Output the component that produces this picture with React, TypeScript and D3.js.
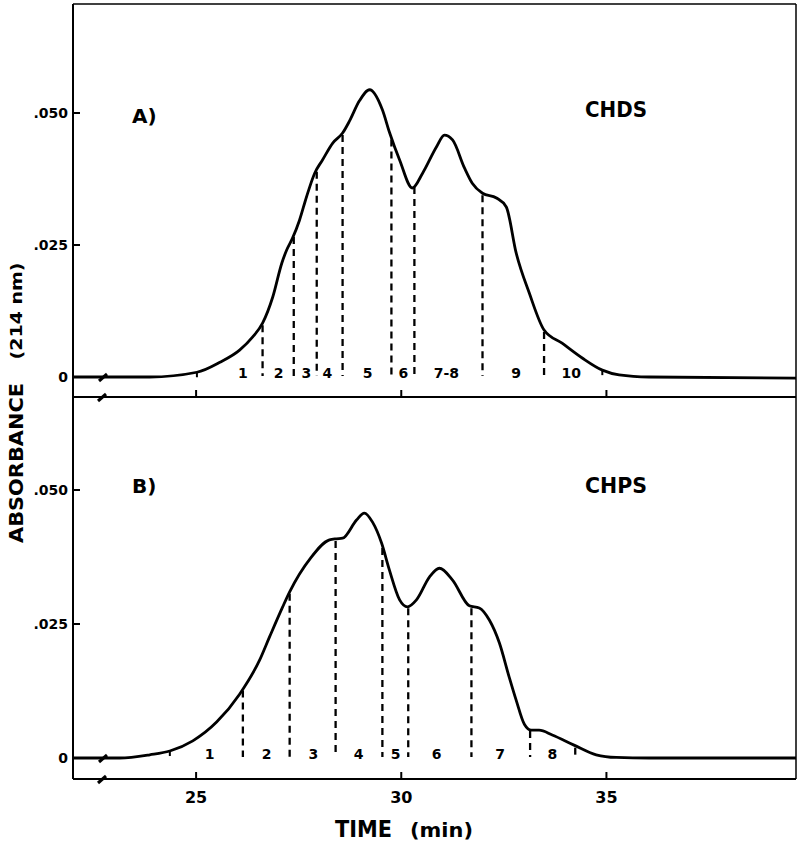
import React from 'react';
import * as d3 from 'd3';

// Panel A (CHDS) chromatogram
const timeA = [22.0, 23.87, 25.02, 25.58, 26.06, 26.38, 26.62, 26.87, 27.09, 27.21, 27.35, 27.52, 27.69, 27.89, 28.08, 28.33, 28.57, 28.74, 28.98, 29.23, 29.54, 29.71, 29.96, 30.27, 30.52, 30.86, 31.05, 31.25, 31.54, 31.73, 31.98, 32.32, 32.56, 32.8, 33.12, 33.48, 33.92, 34.41, 34.9, 35.31, 36.04, 39.62];
const absA = [0, 0, 0.0009, 0.0028, 0.0051, 0.0076, 0.0102, 0.0152, 0.0216, 0.0241, 0.0263, 0.0297, 0.0341, 0.0386, 0.0411, 0.0443, 0.0462, 0.0485, 0.0523, 0.0544, 0.0506, 0.0464, 0.0411, 0.0358, 0.0386, 0.0436, 0.0458, 0.0449, 0.0396, 0.0367, 0.0348, 0.0339, 0.0322, 0.0235, 0.0159, 0.0089, 0.0064, 0.0036, 0.0013, 0.0004, 0, -0.0002];
const boundsA = [26.62, 27.38, 27.94, 28.57, 29.76, 30.32, 31.98, 33.48];
const fracPosA = [26.14, 27.01, 27.69, 28.2, 29.18, 30.05, 31.1, 32.8, 34.14];
const fracLabA = ['1', '2', '3', '4', '5', '6', '7-8', '9', '10'];
const marksA = [25.02, 34.9];

// Panel B (CHPS) chromatogram
const timeB = [22.0, 23.14, 23.87, 24.36, 24.92, 25.5, 26.06, 26.55, 26.79, 27.11, 27.28, 27.79, 28.25, 28.42, 28.57, 28.91, 29.1, 29.3, 29.52, 29.71, 29.96, 30.15, 30.37, 30.69, 30.93, 31.25, 31.66, 31.9, 32.15, 32.39, 32.63, 32.8, 33.0, 33.17, 33.36, 33.68, 34.21, 34.75, 35.24, 36.04, 39.62];
const absB = [0, 0, 0.0006, 0.0013, 0.0032, 0.0067, 0.0119, 0.0183, 0.0226, 0.0282, 0.031, 0.0373, 0.0407, 0.0409, 0.041, 0.0444, 0.0457, 0.044, 0.0401, 0.0351, 0.0295, 0.0282, 0.0295, 0.0338, 0.0354, 0.0332, 0.0284, 0.028, 0.0257, 0.0215, 0.0151, 0.0108, 0.0063, 0.0052, 0.0052, 0.0043, 0.0024, 0.0006, 0.0001, 0, 0];
const boundsB = [26.14, 27.28, 28.4, 29.54, 30.17, 31.71, 33.14, 34.24];
const fracPosB = [25.33, 26.72, 27.86, 28.96, 29.86, 30.86, 32.41, 33.68];
const fracLabB = ['1', '2', '3', '4', '5', '6', '7', '8'];
const marksB = [24.36];

const xTicks = [25, 30, 35];
const xTickLabels = ['25', '30', '35'];
const yTicks = [0, 0.025, 0.05];
const yTickLabels = ['0', '.025', '.050'];

const FONT = '"DejaVu Sans", "Liberation Sans", sans-serif';

function valueAt(time: number[], abs: number[], t: number) {
  const i = d3.bisectLeft(time, t);
  if (i <= 0) return abs[0];
  if (i >= time.length) return abs[abs.length - 1];
  const t0 = time[i - 1], t1 = time[i];
  const f = (t - t0) / (t1 - t0);
  return abs[i - 1] + f * (abs[i] - abs[i - 1]);
}

export default function App() {
  const W = 797, H = 842;
  const x = d3.scaleLinear().domain([22, 39.62]).range([73, 796]);
  const panels = [
    { key: 'A', time: timeA, abs: absA, y: d3.scaleLinear().domain([0, 0.05]).range([377, 113]), axisY: 397, top: 4, label: 'A)', labelY: 123, name: 'CHDS', nameY: 117, bounds: boundsA, fracPos: fracPosA, fracLab: fracLabA, marks: marksA },
    { key: 'B', time: timeB, abs: absB, y: d3.scaleLinear().domain([0, 0.05]).range([758, 490]), axisY: 779, top: 397, label: 'B)', labelY: 493, name: 'CHPS', nameY: 493, bounds: boundsB, fracPos: fracPosB, fracLab: fracLabB, marks: marksB },
  ];

  return (
    <svg width={W} height={H} style={{ position: 'absolute', left: 0, top: 0, background: '#fff' }} fontFamily={FONT}>
      <rect x={0} y={0} width={W} height={H} fill="#fff" />
      {/* frame */}
      <line x1={73} x2={796} y1={4} y2={4} stroke="#000" strokeWidth={1.5} />
      <line x1={73} x2={73} y1={4} y2={779} stroke="#000" strokeWidth={2} />
      <line x1={796} x2={796} y1={4} y2={779} stroke="#000" strokeWidth={1.5} />
      {panels.map((p) => {
        const line = d3.line<number>()
          .x((_, i) => x(p.time[i]))
          .y((d) => p.y(d))
          .curve(d3.curveMonotoneX);
        const y0 = p.y(0);
        return (
          <g key={p.key}>
            {/* x axis line */}
            <line x1={73} x2={796} y1={p.axisY} y2={p.axisY} stroke="#000" strokeWidth={2.2} />
            {xTicks.map((t) => (
              <line key={t} x1={x(t)} x2={x(t)} y1={p.axisY} y2={p.axisY - 7} stroke="#000" strokeWidth={2} />
            ))}
            {/* y ticks */}
            {yTicks.map((v, i) => (
              <g key={v}>
                {v !== 0 && <line x1={73} x2={80} y1={p.y(v)} y2={p.y(v)} stroke="#000" strokeWidth={2} />}
                <text x={68} y={p.y(v) + 5} textAnchor="end" fontSize={14} fontWeight="bold">{yTickLabels[i]}</text>
              </g>
            ))}
            {/* dashed fraction boundaries */}
            {p.bounds.map((t) => (
              <line key={t} x1={x(t)} x2={x(t)} y1={p.y(valueAt(p.time, p.abs, t)) + 2} y2={y0 - 1}
                stroke="#000" strokeWidth={2.3} strokeDasharray="7,5" />
            ))}
            {/* fraction start/end marks */}
            {p.marks.map((t) => (
              <line key={t} x1={x(t)} x2={x(t)} y1={p.y(valueAt(p.time, p.abs, t))} y2={p.y(valueAt(p.time, p.abs, t)) + 5}
                stroke="#000" strokeWidth={2} />
            ))}
            {/* curve */}
            <path d={line(p.abs) || ''} fill="none" stroke="#000" strokeWidth={2.8} strokeLinejoin="round" />
            {/* fraction labels */}
            {p.fracPos.map((t, i) => (
              <text key={i} x={x(t)} y={y0 + 1} textAnchor="middle" fontSize={14} fontWeight="bold">{p.fracLab[i]}</text>
            ))}
            {/* axis break marks */}
            <line x1={99} x2={107} y1={y0 + 4} y2={y0 - 3} stroke="#000" strokeWidth={3} />
            <line x1={98} x2={106} y1={p.axisY + 4} y2={p.axisY - 3} stroke="#000" strokeWidth={3} />
            {/* panel labels */}
            <text x={132} y={p.labelY} fontSize={20} fontWeight="bold">{p.label}</text>
            <text x={585} y={p.nameY} fontSize={21} fontWeight="bold" textLength={62} lengthAdjust="spacingAndGlyphs">{p.name}</text>
          </g>
        );
      })}
      {/* x tick labels */}
      {xTicks.map((t, i) => (
        <text key={t} x={x(t)} y={803} textAnchor="middle" fontSize={16} fontWeight="bold">{xTickLabels[i]}</text>
      ))}
      <text x={335} y={837} fontSize={23} fontWeight="bold" textLength={57} lengthAdjust="spacingAndGlyphs">TIME</text>
      <text x={410} y={837} fontSize={19} fontWeight="bold" textLength={63} lengthAdjust="spacingAndGlyphs">(min)</text>
      <text transform="translate(23,463) rotate(-90)" textAnchor="middle" fontSize={20} fontWeight="bold" textLength={160} lengthAdjust="spacingAndGlyphs">ABSORBANCE</text>
      <text transform="translate(22,311) rotate(-90)" textAnchor="middle" fontSize={15} fontWeight="bold" textLength={97} lengthAdjust="spacingAndGlyphs">(214 nm)</text>
    </svg>
  );
}
